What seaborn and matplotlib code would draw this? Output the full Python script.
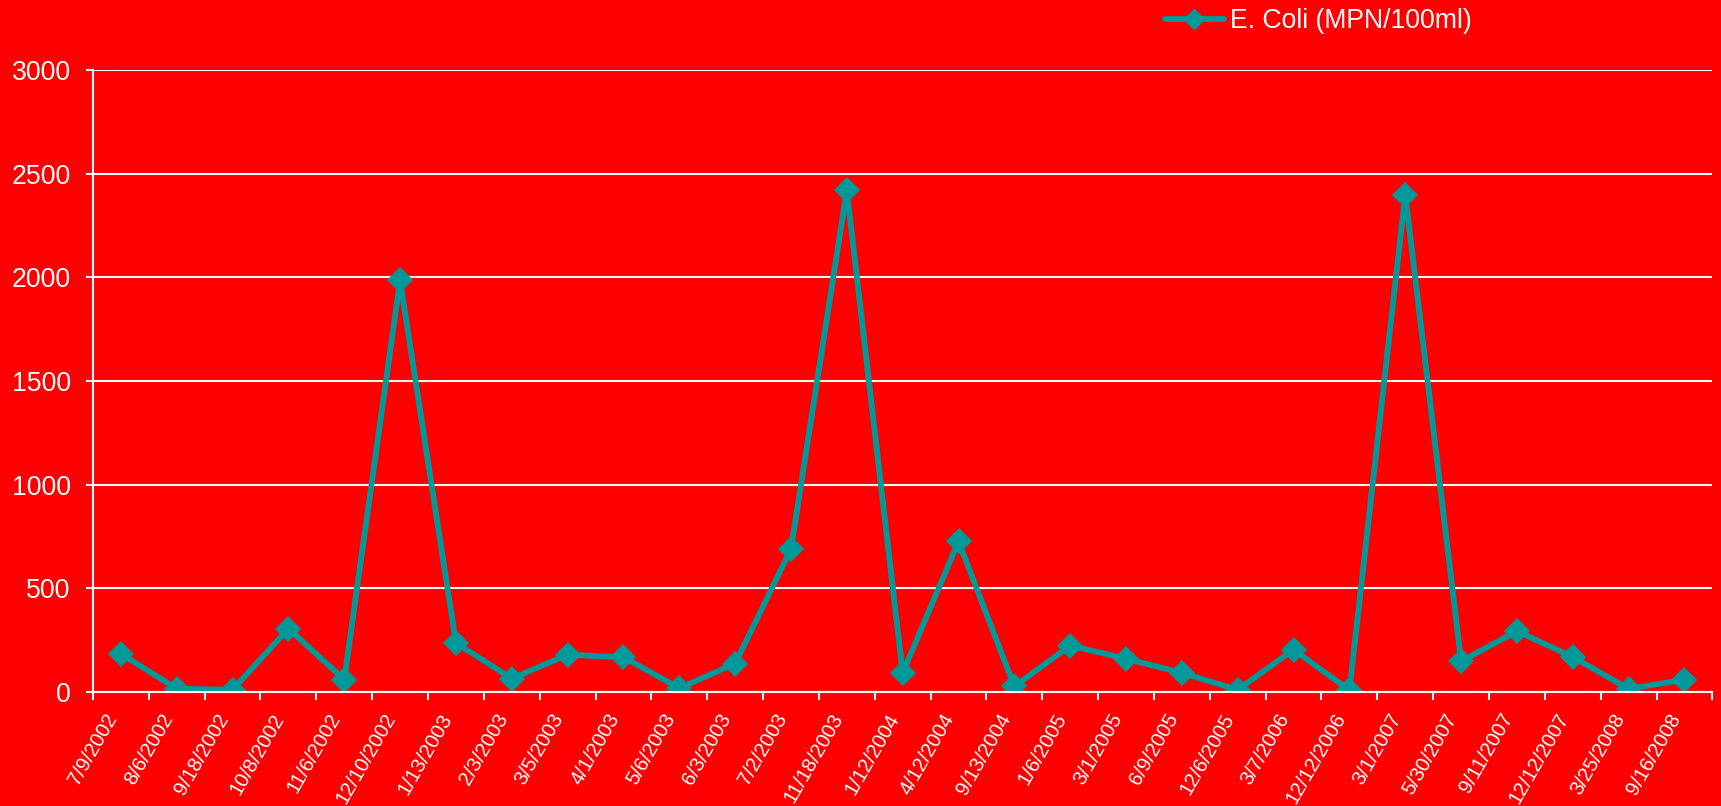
import pandas as pd
import matplotlib
matplotlib.use("Agg")
import matplotlib.pyplot as plt
from matplotlib.lines import Line2D
from matplotlib.ticker import FixedLocator
import seaborn as sns

# sample dates and E. coli counts
dates = ["7/9/2002", "8/6/2002", "9/18/2002", "10/8/2002", "11/6/2002",
         "12/10/2002", "1/13/2003", "2/3/2003", "3/5/2003", "4/1/2003",
         "5/6/2003", "6/3/2003", "7/2/2003", "11/18/2003", "1/12/2004",
         "4/12/2004", "9/13/2004", "1/6/2005", "3/1/2005", "6/9/2005",
         "12/6/2005", "3/7/2006", "12/12/2006", "3/1/2007", "5/30/2007",
         "9/11/2007", "12/12/2007", "3/25/2008", "9/16/2008"]
ecoli = [185, 16, 11, 306, 60,
         1986, 237, 65, 180, 168,
         19, 137, 690, 2420, 92,
         727, 27, 224, 161, 92,
         11, 205, 8, 2400, 148,
         294, 169, 15, 60]
yticks = [0, 500, 1000, 1500, 2000, 2500, 3000]
series_name = "E. Coli (MPN/100ml)"

bg = "#FF0000"
teal = "#009999"

sns.set_style("white", rc={"axes.facecolor": bg, "figure.facecolor": bg})
plt.rcParams["font.family"] = ["Liberation Sans", "DejaVu Sans"]

df = pd.DataFrame({"date": dates, "ecoli": ecoli})

fig = plt.figure(figsize=(17.21, 8.06), dpi=100)
ax = fig.add_axes([0.054, 0.1414, 0.941, 0.7716])

sns.pointplot(data=df, x="date", y="ecoli", color=teal, markers="D",
              markersize=10, linewidth=4.2, errorbar=None, ax=ax)

ax.set_ylim(0, 3000)
ax.set_xlim(-0.5, len(dates) - 0.5)
ax.set_yticks(yticks)
ax.set_xlabel("")
ax.set_ylabel("")

ax.yaxis.grid(True, color="white", linewidth=1.5)
ax.xaxis.grid(False)
ax.set_axisbelow(True)

for side in ["top", "right"]:
    ax.spines[side].set_visible(False)
for side in ["left", "bottom"]:
    ax.spines[side].set_color("white")
    ax.spines[side].set_linewidth(1.5)

ax.tick_params(axis="y", colors="white", labelsize=19.2, length=5, width=1.5,
               direction="out", left=True, pad=11)
ax.tick_params(axis="x", which="major", length=0, labelsize=14.6,
               labelcolor="white", pad=13)
ax.xaxis.set_minor_locator(FixedLocator([i - 0.5 for i in range(len(dates) + 1)]))
ax.tick_params(axis="x", which="minor", length=6, width=1.5, color="white",
               bottom=True, direction="out")
plt.setp(ax.get_xticklabels(), rotation=60, ha="right", va="top")

handle = Line2D([], [], color=teal, marker="D", markersize=10, linewidth=4.2)
fig.legend(handles=[handle], labels=[series_name], loc="center left",
           bbox_to_anchor=(0.677, 0.974), frameon=False, fontsize=19.2,
           labelcolor="white", handlelength=2.2, handletextpad=0.25,
           borderpad=0, borderaxespad=0)

fig.savefig("out.png", dpi=100, facecolor=bg)
